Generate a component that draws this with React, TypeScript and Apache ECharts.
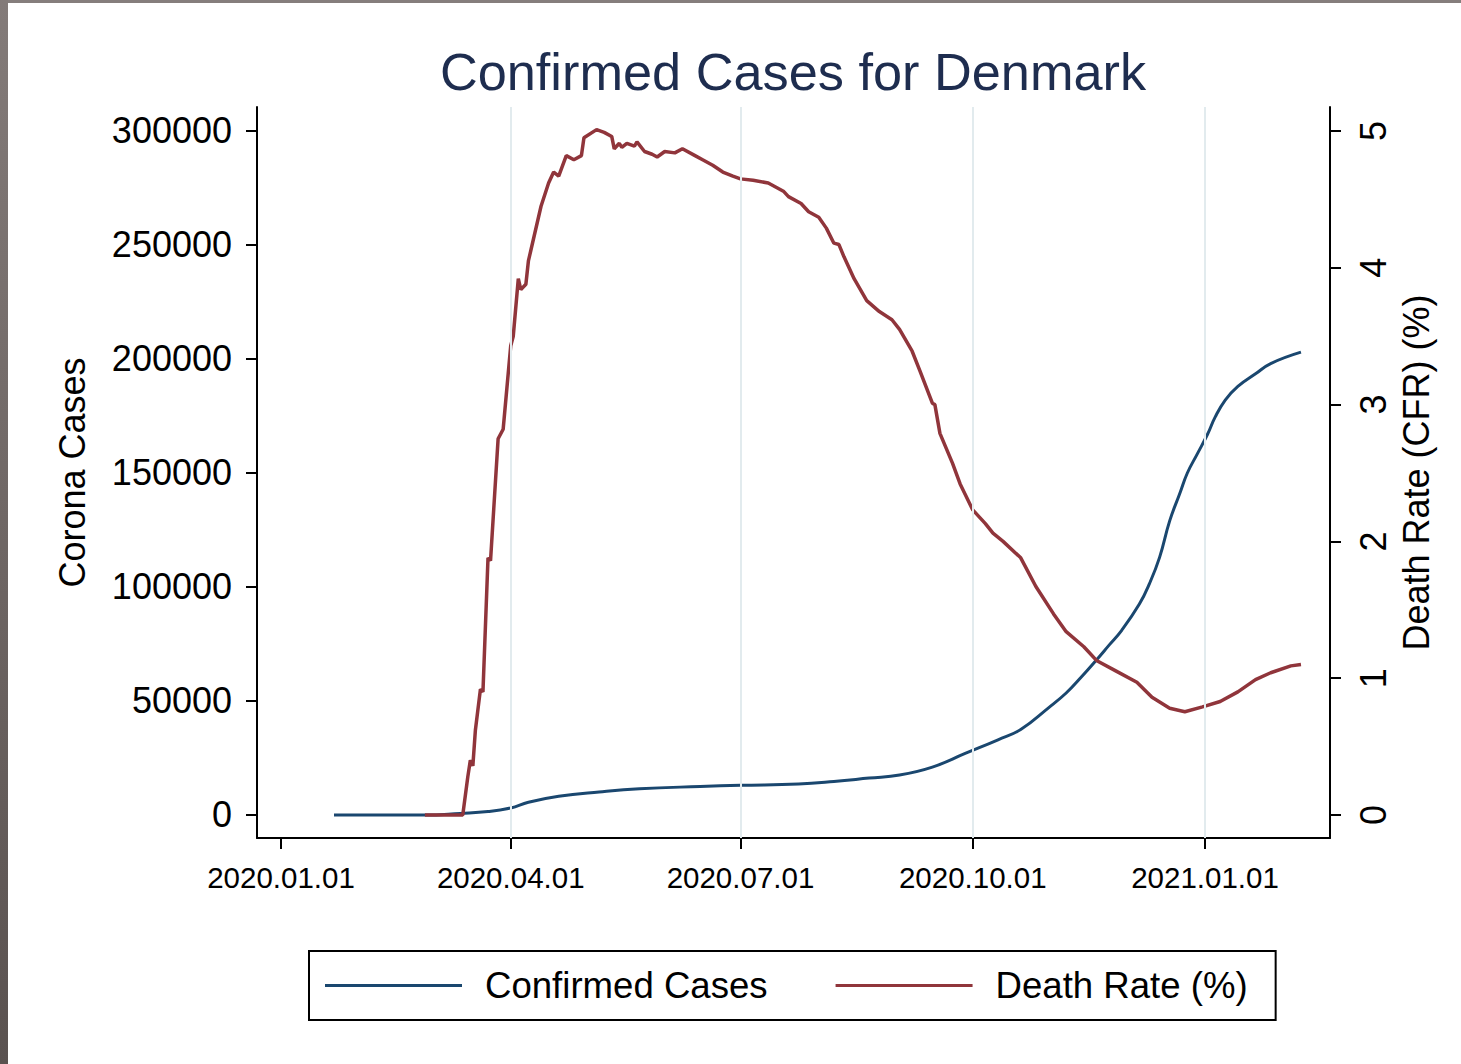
import React, { useEffect, useRef } from "react";
import * as echarts from "echarts";

// ---------- data ----------
const casesDates = [
  "2020-01-22", "2020-02-27", "2020-03-12", "2020-03-23", "2020-04-01", "2020-04-08",
  "2020-04-20", "2020-05-06", "2020-05-22", "2020-06-15", "2020-07-01", "2020-07-24",
  "2020-08-07", "2020-08-21", "2020-09-02", "2020-09-15", "2020-09-28", "2020-10-11",
  "2020-10-20", "2020-10-31", "2020-11-07", "2020-11-13", "2020-11-19", "2020-11-24",
  "2020-11-29", "2020-12-06", "2020-12-10", "2020-12-14", "2020-12-18", "2020-12-22",
  "2020-12-25", "2020-12-29", "2021-01-02", "2021-01-05", "2021-01-09", "2021-01-14",
  "2021-01-21", "2021-01-27", "2021-02-08",
];
const casesValues = [
  0, 0, 700, 1500, 3100, 5600,
  8200, 10100, 11500, 12500, 13000, 13600,
  14700, 16200, 17500, 21000, 27000, 33000,
  37500, 47000, 53500, 60500, 68000, 74500,
  81000, 92500, 101500, 113000, 129000, 141000,
  150000, 158500, 167000, 174500, 182000, 188000,
  193500, 198000, 203000,
];

const cfrDates = [
  "2020-02-27", "2020-03-13", "2020-03-15", "2020-03-16", "2020-03-17", "2020-03-18",
  "2020-03-20", "2020-03-21", "2020-03-23", "2020-03-24", "2020-03-27", "2020-03-29",
  "2020-04-01", "2020-04-02", "2020-04-04", "2020-04-05", "2020-04-07", "2020-04-08",
  "2020-04-09", "2020-04-13", "2020-04-16", "2020-04-18", "2020-04-20", "2020-04-23",
  "2020-04-26", "2020-04-29", "2020-04-30", "2020-05-05", "2020-05-08", "2020-05-11",
  "2020-05-12", "2020-05-14", "2020-05-15", "2020-05-17", "2020-05-20", "2020-05-21",
  "2020-05-24", "2020-05-27", "2020-05-29", "2020-06-01", "2020-06-05", "2020-06-08",
  "2020-06-13", "2020-06-16", "2020-06-20", "2020-06-24", "2020-06-28", "2020-07-01",
  "2020-07-06", "2020-07-12", "2020-07-18", "2020-07-20", "2020-07-25", "2020-07-28",
  "2020-08-01", "2020-08-04", "2020-08-07", "2020-08-09", "2020-08-11", "2020-08-15",
  "2020-08-20", "2020-08-25", "2020-08-30", "2020-09-02", "2020-09-07", "2020-09-10",
  "2020-09-15", "2020-09-16", "2020-09-18", "2020-09-23", "2020-09-26", "2020-10-01",
  "2020-10-06", "2020-10-09", "2020-10-13", "2020-10-20", "2020-10-26", "2020-11-02",
  "2020-11-07", "2020-11-14", "2020-11-19", "2020-11-27", "2020-12-05", "2020-12-11",
  "2020-12-18", "2020-12-24", "2020-12-31", "2021-01-07", "2021-01-14", "2021-01-21",
  "2021-01-27", "2021-02-04", "2021-02-08",
];
const cfrValues = [
  0, 0, 0.28, 0.4, 0.36, 0.62,
  0.92, 0.9, 1.88, 1.86, 2.75, 2.82,
  3.43, 3.5, 3.92, 3.84, 3.88, 4.05,
  4.13, 4.45, 4.62, 4.7, 4.67, 4.82,
  4.79, 4.82, 4.95, 5.01, 4.99, 4.96,
  4.87, 4.91, 4.88, 4.91, 4.89, 4.92,
  4.85, 4.83, 4.81, 4.85, 4.84, 4.87,
  4.82, 4.79, 4.75, 4.7, 4.67, 4.65,
  4.64, 4.62, 4.56, 4.52, 4.47, 4.41,
  4.37, 4.29, 4.18, 4.17, 4.08, 3.92,
  3.76, 3.68, 3.62, 3.55, 3.39, 3.25,
  3.01, 3.0, 2.79, 2.57, 2.42, 2.23,
  2.13, 2.06, 2.0, 1.88, 1.67, 1.47,
  1.34, 1.23, 1.13, 1.05, 0.97, 0.86,
  0.78, 0.755, 0.79, 0.83, 0.9, 0.99,
  1.04, 1.09, 1.1,
];

const xTickDates = ["2020-01-01", "2020-04-01", "2020-07-01", "2020-10-01", "2021-01-01"];
const xGridDates = ["2020-04-01", "2020-07-01", "2020-10-01", "2021-01-01"];
const leftTicks = [0, 50000, 100000, 150000, 200000, 250000, 300000];
const rightTicks = [0, 1, 2, 3, 4, 5];
const seriesNames = ["Confirmed Cases", "Death Rate (%)"];

// ---------- helpers ----------
const ts = (s: string) => {
  const [y, m, d] = s.split("-").map(Number);
  return Date.UTC(y, m - 1, d);
};
const DAY = 86400000;
const pad = (n: number) => (n < 10 ? "0" + n : "" + n);
const fmtDate = (v: number) => {
  const d = new Date(v);
  return d.getUTCFullYear() + "." + pad(d.getUTCMonth() + 1) + "." + pad(d.getUTCDate());
};

const FONT = "Liberation Sans, Arial, sans-serif";
const NAVY = "#1a476f";
const MAROON = "#90353b";

export default function App() {
  const ref = useRef<HTMLDivElement>(null);

  useEffect(() => {
    if (!ref.current) return;
    const chart = echarts.init(ref.current, undefined, { renderer: "svg" });

    const xMin = ts("2020-01-01") - 9.5 * DAY;
    const xMax = ts("2021-01-01") + 49.5 * DAY;

    const option: any = {
      animation: false,
      backgroundColor: "#ffffff",
      textStyle: { fontFamily: FONT },
      title: {
        text: "Confirmed Cases for Denmark",
        left: 788,
        top: 41,
        textAlign: "center",
        textStyle: { fontSize: 52.3, fontWeight: "normal", color: "#1e2d4f", fontFamily: FONT },
      },
      graphic: [
        {
          type: "rect",
          left: 0,
          top: 0,
          shape: { width: 1461, height: 3 },
          style: { fill: "#857e7c" },
          silent: true,
        },
        {
          type: "rect",
          left: 0,
          top: 0,
          shape: { width: 8, height: 1064 },
          style: {
            fill: new echarts.graphic.LinearGradient(0, 0, 0, 1, [
              { offset: 0, color: "#837b79" },
              { offset: 1, color: "#5a5250" },
            ]),
          },
          silent: true,
        },
      ],
      legend: {
        data: seriesNames,
        left: 309,
        top: 951,
        icon: "rect",
        itemWidth: 137,
        itemHeight: 3,
        itemGap: 68,
        padding: [16, 28, 16, 16],
        borderColor: "#000",
        borderWidth: 2,
        textStyle: { fontSize: 36.6, color: "#000", fontFamily: FONT, padding: [3, 0, 0, 18] },
      },
      grid: { left: 257, right: 131, top: 107, bottom: 226, containLabel: false },
      xAxis: {
        type: "value",
        min: xMin,
        max: xMax,
        axisLine: { show: true, onZero: false, lineStyle: { color: "#000", width: 2 } },
        axisTick: { show: true, length: 11, lineStyle: { color: "#000", width: 2 }, customValues: xTickDates.map(ts) },
        axisLabel: {
          customValues: xTickDates.map(ts),
          formatter: (v: number) => fmtDate(v),
          fontSize: 29.5,
          color: "#000",
          margin: 24,
          fontFamily: FONT,
          hideOverlap: false,
        },
        splitLine: { show: false },
      },
      yAxis: [
        {
          type: "value",
          min: -10088,
          max: 310526,
          name: "Corona Cases",
          nameLocation: "middle",
          nameGap: 167,
          nameRotate: 90,
          nameTextStyle: { fontSize: 36, color: "#000", fontFamily: FONT },
          axisLine: { show: true, onZero: false, lineStyle: { color: "#000", width: 2 } },
          axisTick: { show: true, length: 11, lineStyle: { color: "#000", width: 2 }, customValues: leftTicks },
          axisLabel: {
            customValues: leftTicks,
            formatter: (v: number) => String(v),
            fontSize: 36,
            color: "#000",
            margin: 25,
            fontFamily: FONT,
          },
          splitLine: { show: false },
        },
        {
          type: "value",
          position: "right",
          min: -0.1681,
          max: 5.1754,
          name: "Death Rate (CFR) (%)",
          nameLocation: "middle",
          nameGap: 56,
          nameRotate: 90,
          nameTextStyle: { fontSize: 36, color: "#000", fontFamily: FONT },
          axisLine: { show: true, onZero: false, lineStyle: { color: "#000", width: 2 } },
          axisTick: { show: true, length: 11, lineStyle: { color: "#000", width: 2 }, customValues: rightTicks },
          axisLabel: {
            customValues: rightTicks,
            formatter: (v: number) => String(v),
            rotate: 90,
            fontSize: 36,
            color: "#000",
            margin: 25,
            fontFamily: FONT,
          },
          splitLine: { show: false },
        },
      ],
      series: [
        {
          name: "grid",
          type: "line",
          data: [],
          z: 1,
          silent: true,
          markLine: {
            silent: true,
            symbol: ["none", "none"],
            label: { show: false },
            lineStyle: { color: "#e2ebee", width: 2, type: "solid" },
            data: xGridDates.map((s) => ({ xAxis: ts(s) })),
          },
        },
        {
          name: seriesNames[0],
          type: "line",
          yAxisIndex: 0,
          color: NAVY,
          showSymbol: false,
          symbol: "none",
          smooth: 0.45,
          z: 3,
          lineStyle: { width: 3, color: NAVY },
          data: casesDates.map((d, i) => [ts(d), casesValues[i]]),
        },
        {
          name: seriesNames[1],
          type: "line",
          yAxisIndex: 1,
          color: MAROON,
          showSymbol: false,
          symbol: "none",
          z: 4,
          lineStyle: { width: 3.5, color: MAROON },
          data: cfrDates.map((d, i) => [ts(d), cfrValues[i]]),
        },
      ],
    };

    chart.setOption(option);
    return () => chart.dispose();
  }, []);

  return (
    <div
      ref={ref}
      style={{ position: "fixed", left: 0, top: 0, width: 1461, height: 1064, background: "#fff" }}
    />
  );
}
